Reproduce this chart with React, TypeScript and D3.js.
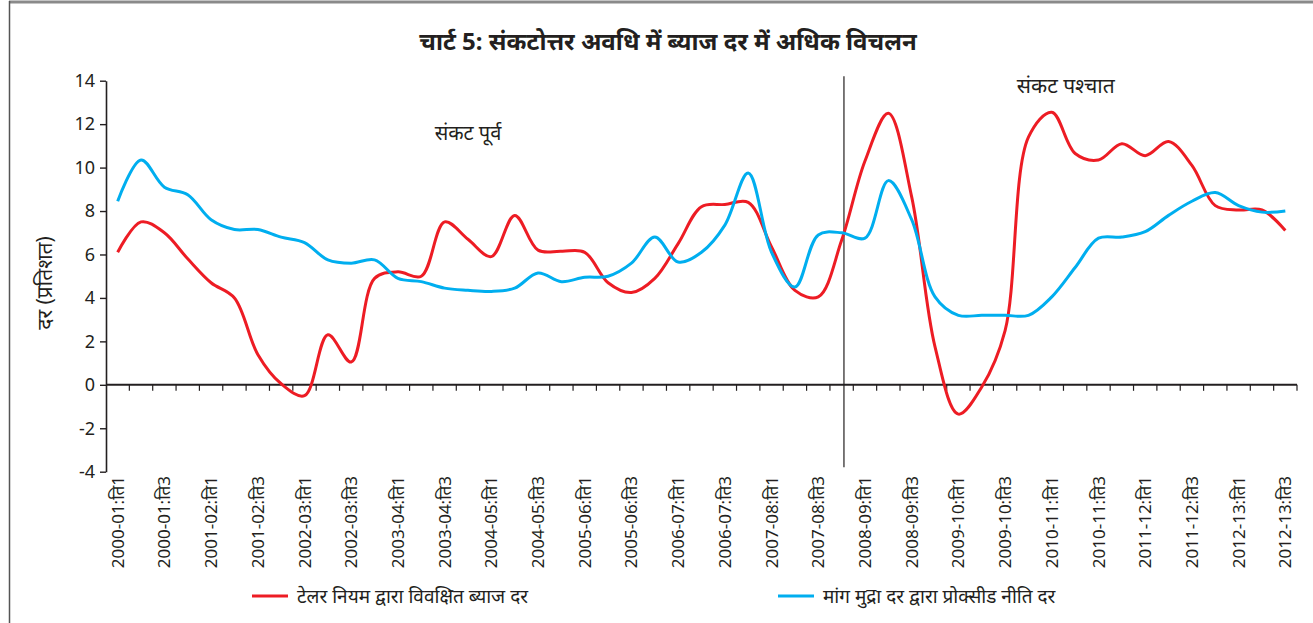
import React, { useEffect, useRef } from 'react';
import * as d3 from 'd3';

// fiscal years and quarters (ति = तिमाही)
const fiscalYears = [
  '2000-01', '2001-02', '2002-03', '2003-04', '2004-05', '2005-06', '2006-07',
  '2007-08', '2008-09', '2009-10', '2010-11', '2011-12', '2012-13'
];
const quarters = ['ति1', 'ति2', 'ति3', 'ति4'];
const categories = fiscalYears.flatMap((y) => quarters.map((q) => `${y}:${q}`)).slice(0, 51);
const shownQuarters = ['ति1', 'ति3'];

// Taylor rule implied rate
const taylorRate = [
  6.1, 7.5, 7.0, 5.8, 4.7, 4.0, 1.4, 0.05, -0.5, 2.3, 1.05, 4.9, 5.2,
  5.0, 7.5, 6.7, 5.9, 7.8, 6.2, 6.15, 6.1, 4.7, 4.25, 4.9, 6.5,
  8.2, 8.3, 8.4, 6.35, 4.35, 4.05, 6.65, 10.3, 12.5, 8.65, 1.75, -1.35, -0.1,
  2.5, 11.4, 12.55, 10.65, 10.35, 11.1, 10.55, 11.2, 10.1, 8.25, 8.05, 8.05, 7.1
];
// call money rate as proxied policy rate
const callRate = [
  8.45, 10.35, 9.1, 8.75, 7.6, 7.15, 7.15, 6.8, 6.55, 5.75, 5.6, 5.75, 4.9,
  4.75, 4.45, 4.35, 4.3, 4.45, 5.15, 4.75, 4.95, 5.0, 5.6, 6.8, 5.65,
  6.1, 7.35, 9.75, 6.1, 4.5, 6.9, 7.0, 6.75, 9.4, 7.6, 4.05, 3.2, 3.2,
  3.2, 3.2, 4.05, 5.4, 6.75, 6.8, 7.05, 7.8, 8.45, 8.85, 8.25, 7.95, 8.0
];
const crisisPoint = 31.1;

const series = [
  { key: 'टेलर नियम द्वारा विवक्षित ब्याज दर', values: taylorRate, color: '#ed1c24' },
  { key: 'मांग मुद्रा दर द्वारा प्रोक्सीड नीति दर', values: callRate, color: '#00aeef' }
];

const yTicks = [-4, -2, 0, 2, 4, 6, 8, 10, 12, 14];

const App = () => {
  const ref = useRef<SVGSVGElement | null>(null);

  useEffect(() => {
    const width = 1313;
    const height = 623;
    const ink = '#231f20';
    const font = '"Noto Sans", "DejaVu Sans", sans-serif';

    const svg = d3.select(ref.current);
    svg.selectAll('*').remove();
    svg.attr('width', width).attr('height', height).style('font-family', font);

    // frame
    svg.append('line').attr('x1', 9).attr('x2', width).attr('y1', 2).attr('y2', 2)
      .attr('stroke', '#8a8a8a').attr('stroke-width', 3);
    svg.append('line').attr('x1', 9.5).attr('x2', 9.5).attr('y1', 1).attr('y2', height)
      .attr('stroke', '#555').attr('stroke-width', 1.5);

    // title
    svg.append('text')
      .attr('x', 668).attr('y', 50)
      .attr('text-anchor', 'middle')
      .style('font-size', '24px').style('font-weight', 'bold').attr('fill', ink)
      .text('चार्ट 5: संकटोत्तर अवधि में ब्याज दर में अधिक विचलन');

    const left = 106, right = 1297;
    const xBand = d3.scaleBand().domain(categories).range([left, right]).paddingInner(0).paddingOuter(0);
    const xIdx = d3.scaleLinear().domain([-0.5, categories.length - 0.5]).range([left, right]);
    const y = d3.scaleLinear().domain([-4, 14]).range([471.7, 80.7]);

    // y axis
    const yAxis = svg.append('g')
      .attr('transform', `translate(${left},0)`)
      .call(d3.axisLeft(y).tickValues(yTicks).tickFormat((d) => String(d)).tickSize(6).tickPadding(5).tickSizeOuter(0));
    yAxis.select('.domain').attr('stroke', ink).attr('stroke-width', 1.6);
    yAxis.selectAll('.tick line').attr('stroke', ink).attr('stroke-width', 1.4);
    yAxis.selectAll('.tick text').attr('fill', ink).style('font-size', '18px').style('font-family', font);

    // x axis at zero, ticks on band boundaries
    const xAxis = svg.append('g').attr('transform', `translate(0,${y(0)})`);
    xAxis.append('line').attr('x1', left).attr('x2', right).attr('stroke', ink).attr('stroke-width', 2);
    xAxis.selectAll('line.tk')
      .data(categories)
      .join('line')
      .attr('class', 'tk')
      .attr('x1', (d) => (xBand(d) as number) + xBand.bandwidth())
      .attr('x2', (d) => (xBand(d) as number) + xBand.bandwidth())
      .attr('y1', 0).attr('y2', 6)
      .attr('stroke', ink).attr('stroke-width', 1.2);

    // x labels, every other quarter
    svg.append('g')
      .selectAll('text')
      .data(categories.filter((c) => shownQuarters.includes(c.split(':')[1])))
      .join('text')
      .attr('transform', (d) => `translate(${(xBand(d) as number) + xBand.bandwidth() / 2 + 6},476) rotate(-90)`)
      .attr('text-anchor', 'end')
      .style('font-size', '17px')
      .attr('fill', ink)
      .text((d) => d);

    // y title
    svg.append('text')
      .attr('transform', `translate(52,283) rotate(-90)`)
      .attr('text-anchor', 'middle')
      .style('font-size', '21px').attr('fill', ink)
      .text('दर (प्रतिशत)');

    // crisis divider
    svg.append('line')
      .attr('x1', xIdx(crisisPoint)).attr('x2', xIdx(crisisPoint))
      .attr('y1', y(14.2)).attr('y2', y(-3.8))
      .attr('stroke', ink).attr('stroke-width', 1.2);

    svg.append('text')
      .attr('x', xIdx(15)).attr('y', y(11.5))
      .attr('text-anchor', 'middle').attr('dominant-baseline', 'middle')
      .style('font-size', '20px').attr('fill', ink)
      .text('संकट पूर्व');
    svg.append('text')
      .attr('x', xIdx(40.6)).attr('y', y(13.7))
      .attr('text-anchor', 'middle').attr('dominant-baseline', 'middle')
      .style('font-size', '21px').attr('fill', ink)
      .text('संकट पश्चात');

    const line = d3.line<number>()
      .x((d, i) => xIdx(i))
      .y((d) => y(d))
      .curve(d3.curveCatmullRom.alpha(0.5));

    series.forEach((s) => {
      svg.append('path')
        .datum(s.values)
        .attr('d', line)
        .attr('fill', 'none')
        .attr('stroke', s.color)
        .attr('stroke-width', 3)
        .attr('stroke-linejoin', 'round');
    });

    // legend
    const legendX = [252, 778];
    series.forEach((s, i) => {
      const g = svg.append('g').attr('transform', `translate(${legendX[i]},596)`);
      g.append('line').attr('x1', 0).attr('x2', 36).attr('stroke', s.color).attr('stroke-width', 3);
      g.append('text').attr('x', 45).attr('y', 7)
        .style('font-size', '19px').attr('fill', ink)
        .text(s.key);
    });
  }, []);

  return (
    <div style={{ position: 'absolute', left: 0, top: 0 }}>
      <svg ref={ref} style={{ display: 'block' }}></svg>
    </div>
  );
};

export default App;
